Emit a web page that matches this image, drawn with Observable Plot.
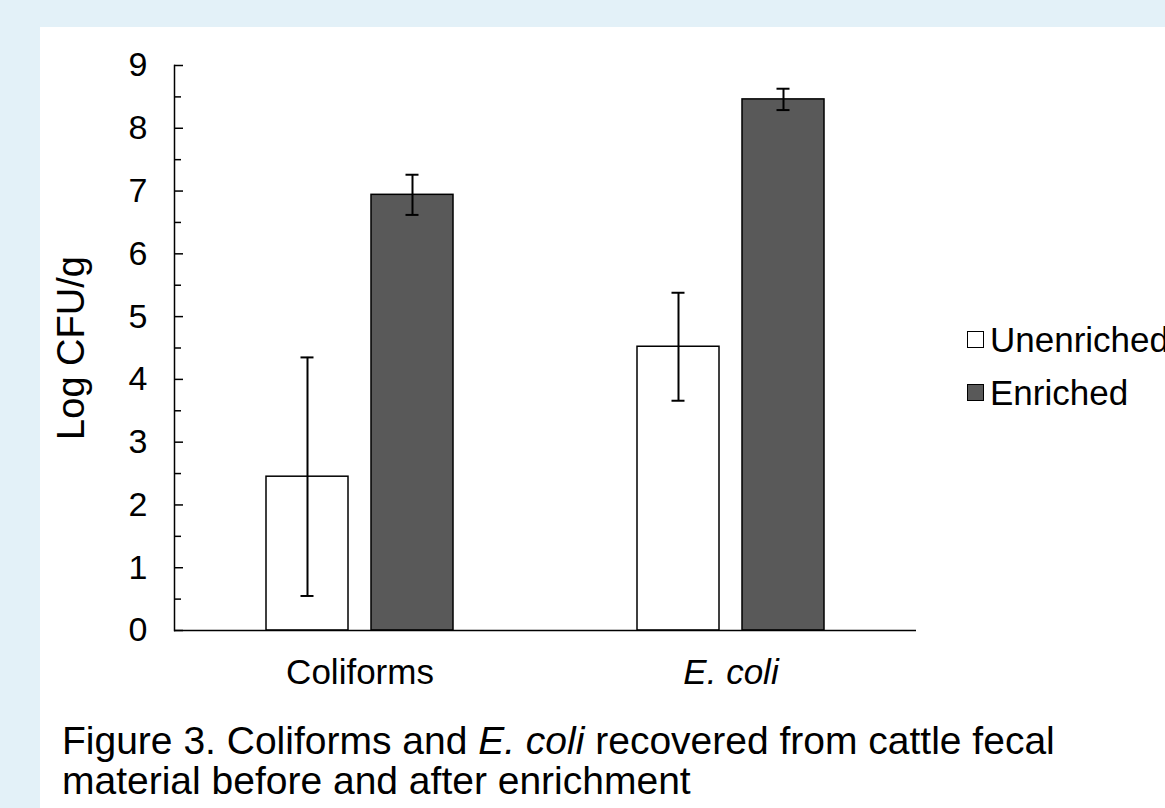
<!DOCTYPE html>
<html>
<head>
<meta charset="utf-8">
<script src="https://cdn.jsdelivr.net/npm/d3@7"></script>
<script src="https://cdn.jsdelivr.net/npm/@observablehq/plot@0.6"></script>
<style>
html, body { margin: 0; padding: 0; }
body { width: 1165px; height: 808px; background: #e3f1f8; position: relative; overflow: hidden;
  font-family: "Liberation Sans", Arial, Helvetica, sans-serif; color: #000; }
#panel { position: absolute; left: 40px; top: 27px; width: 1125px; height: 781px; background: #fff; overflow: hidden; }
#chart { position: absolute; left: 0; top: 0; }
#legend { position: absolute; left: 927px; top: 286px; font-size: 35px; white-space: nowrap; }
.row { display: flex; align-items: center; height: 53px; }
.sw { width: 17px; height: 17px; box-sizing: border-box; border: 1.5px solid #000; margin-right: 6px; }
#caption { position: absolute; left: 22px; top: 694px; font-size: 39px; line-height: 40px; white-space: nowrap; }
</style>
</head>
<body>
<div id="panel">
  <div id="chart"></div>
  <div id="legend"></div>
  <div id="caption"></div>
</div>
<script>
const categories = ["Coliforms", "E. coli"];
const italicCategories = ["E. coli"];
const series = ["Unenriched", "Enriched"];
const unenrichedMean = [2.45, 4.52];
const unenrichedErr = [1.9, 0.86];
const enrichedMean = [6.94, 8.46];
const enrichedErr = [0.32, 0.17];
const seriesFill = ["#ffffff", "#595959"];
const yTicks = [0, 1, 2, 3, 4, 5, 6, 7, 8, 9];
const yMinorTicks = [0.5, 1.5, 2.5, 3.5, 4.5, 5.5, 6.5, 7.5, 8.5];
const yLabel = "Log CFU/g";

const rows = categories.flatMap((c, i) => [
  {category: c, series: series[0], mean: unenrichedMean[i], err: unenrichedErr[i]},
  {category: c, series: series[1], mean: enrichedMean[i], err: enrichedErr[i]}
]);

const font = '"Liberation Sans", Arial, Helvetica, sans-serif';

const plot = Plot.plot({
  width: 900,
  height: 680,
  marginLeft: 133,
  marginRight: 24,
  marginTop: 38,
  marginBottom: 77,
  style: {fontFamily: font, fontSize: "34px", color: "#000", background: "transparent", overflow: "visible"},
  fx: {domain: categories, padding: 0, axis: null, label: null},
  x: {domain: series, paddingInner: 0.217, paddingOuter: 0.861, axis: null},
  y: {domain: [0, 9], axis: null},
  color: {domain: series, range: seriesFill},
  marks: [
    Plot.barY(rows, {fx: "category", x: "series", y: "mean", fill: "series", stroke: "#000", strokeWidth: 1.5}),
    Plot.ruleX(rows, {fx: "category", x: "series", y1: d => d.mean - d.err, y2: d => d.mean + d.err, stroke: "#000", strokeWidth: 2}),
    Plot.tickY(rows, {fx: "category", x: "series", y: d => d.mean + d.err, insetLeft: 34.5, insetRight: 34.5, stroke: "#000", strokeWidth: 2}),
    Plot.tickY(rows, {fx: "category", x: "series", y: d => d.mean - d.err, insetLeft: 34.5, insetRight: 34.5, stroke: "#000", strokeWidth: 2}),
    Plot.ruleY([0], {stroke: "#000", strokeWidth: 1.5}),
    Plot.axisY({ticks: yTicks, tickSize: 0, tickPadding: 27, fontSize: 34, label: null}),
    Plot.axisY({ticks: [], tickSize: 0, fontSize: 38, label: yLabel, labelArrow: "none", labelAnchor: "center", labelOffset: 117}),
    Plot.axisY({ticks: yTicks, tickSize: 9, insetLeft: 9, tickFormat: () => "", label: null, strokeWidth: 1.5}),
    Plot.axisY({ticks: yMinorTicks, tickSize: 7, insetLeft: 7, tickFormat: () => "", label: null, strokeWidth: 1.5}),
    Plot.frame({anchor: "left", facetAnchor: "left", stroke: "#000", strokeWidth: 1.5}),
    Plot.axisFx({anchor: "bottom", tickSize: 0, tickPadding: 29, fontSize: 35, label: null})
  ]
});

d3.select(plot).selectAll('g[aria-label="fx-axis tick label"] text')
  .filter(function() { return italicCategories.includes(this.textContent); })
  .attr("font-style", "italic");

document.getElementById("chart").appendChild(plot);

const legend = d3.select("#legend");
series.forEach((s, i) => {
  const row = legend.append("div").attr("class", "row");
  row.append("div").attr("class", "sw").style("background", seriesFill[i]);
  row.append("span").text(s);
});

document.getElementById("caption").innerHTML =
  "Figure 3. Coliforms and <i>E. coli</i> recovered from cattle fecal<br>material before and after enrichment";
</script>
</body>
</html>
